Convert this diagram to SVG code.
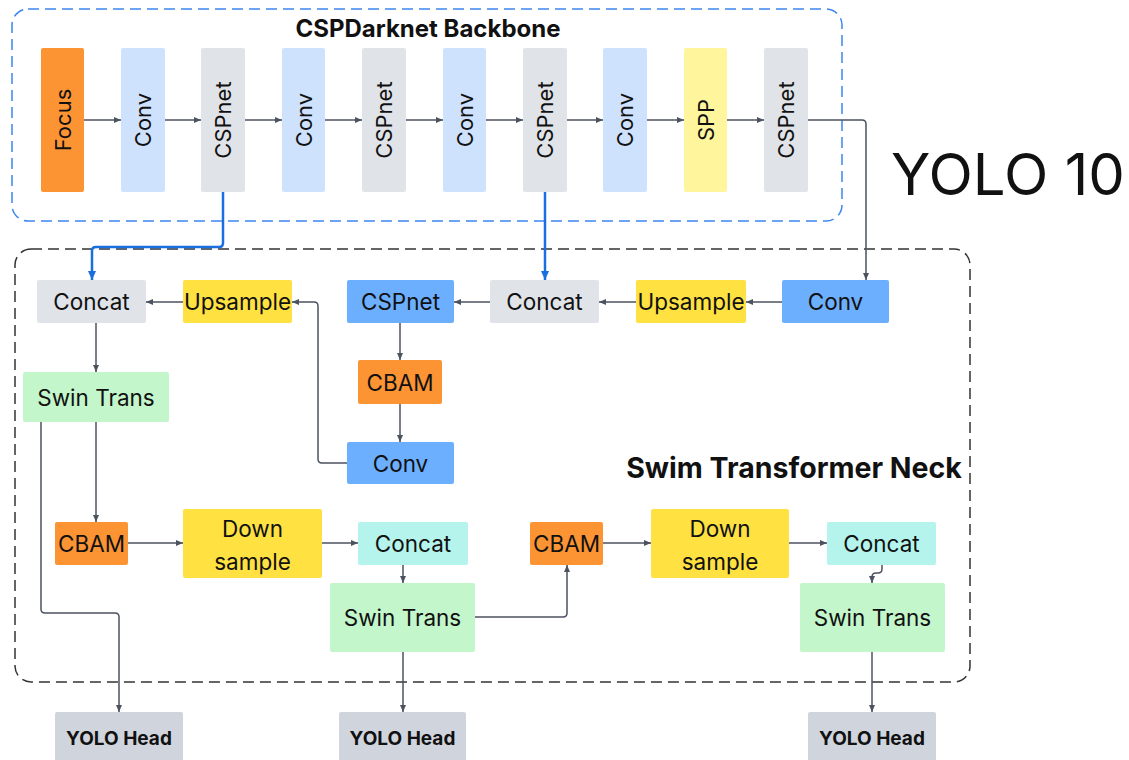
<svg xmlns="http://www.w3.org/2000/svg" width="1129" height="760" viewBox="0 0 1129 760">
<style>
text{font-family:Inter,"Liberation Sans",sans-serif;fill:#111;}
.lbl{font-size:22.5px;text-anchor:middle;dominant-baseline:central;}
.vlbl{font-size:22px;text-anchor:middle;dominant-baseline:central;}
.head{font-size:19px;font-weight:700;text-anchor:middle;}
.title{font-weight:700;}
.ln{fill:none;stroke:#4b5260;stroke-width:1.5;marker-end:url(#ah);}
.bl{fill:none;stroke:#1a6fe0;stroke-width:2.5;marker-end:url(#ahb);}
.orange{fill:#fc9433;}
.lblue{fill:#cfe2fd;}
.gray{fill:#e0e3e8;}
.lyel{fill:#fff59c;}
.blue{fill:#6cafff;}
.yel{fill:#ffe142;}
.green{fill:#c3f6cb;}
.cyan{fill:#b5f4ec;}
.hgray{fill:#d0d5dd;}
</style>
<defs>
<marker id="ah" markerUnits="userSpaceOnUse" markerWidth="8" markerHeight="8" refX="7" refY="4" orient="auto"><path d="M0,1 L7,4 L0,7 z" fill="#4b5260"/></marker>
<marker id="ahb" markerUnits="userSpaceOnUse" markerWidth="10" markerHeight="10" refX="9" refY="5" orient="auto"><path d="M0,1 L9,5 L0,9 z" fill="#1a6fe0"/></marker>
</defs>
<rect width="1129" height="760" fill="#fff"/>

<g id="backbone-frame">
<rect x="12" y="9" width="830" height="212" rx="16" fill="none" stroke="#3d86f0" stroke-width="1.5" stroke-dasharray="11 6"/>
<text class="title" x="428" y="37" font-size="24" text-anchor="middle">CSPDarknet Backbone</text>
</g>
<g id="neck-frame">
<rect x="15" y="249" width="955" height="433" rx="16" fill="none" stroke="#333" stroke-width="1.5" stroke-dasharray="11 6"/>
<text class="title" x="794" y="478" font-size="28.5" text-anchor="middle">Swim Transformer Neck</text>
</g>
<text x="1008" y="195" font-size="58" text-anchor="middle">YOLO 10</text>

<g id="connectors">
<path class="ln" d="M84,120 H121"/>
<path class="ln" d="M165,120 H201"/>
<path class="ln" d="M245,120 H282"/>
<path class="ln" d="M325,120 H362"/>
<path class="ln" d="M406,120 H443"/>
<path class="ln" d="M486,120 H523"/>
<path class="ln" d="M567,120 H603"/>
<path class="ln" d="M647,120 H684"/>
<path class="ln" d="M727,120 H764"/>
<path class="ln" d="M808,120 H862 Q866,120 866,124 V280"/>
<path class="bl" d="M223,192 V243 Q223,247 219,247 H96 Q92,247 92,251 V280"/>
<path class="bl" d="M545,192 V280"/>
<path class="ln" d="M782,302 H746"/>
<path class="ln" d="M636,302 H599"/>
<path class="ln" d="M490,302 H454"/>
<path class="ln" d="M400,323 V360"/>
<path class="ln" d="M400,404 V442"/>
<path class="ln" d="M347,463 H322 Q318,463 318,459 V306 Q318,302 314,302 H292"/>
<path class="ln" d="M183,302 H146"/>
<path class="ln" d="M96,323 V372"/>
<path class="ln" d="M96,422 V522"/>
<path class="ln" d="M41,422 V609 Q41,613 45,613 H115 Q119,613 119,617 V712"/>
<path class="ln" d="M128,543 H183"/>
<path class="ln" d="M322,543 H358"/>
<path class="ln" d="M403,565 V583"/>
<path class="ln" d="M403,652 V712"/>
<path class="ln" d="M475,617 H563 Q567,617 567,613 V565"/>
<path class="ln" d="M603,543 H651"/>
<path class="ln" d="M789,543 H827"/>
<path class="ln" d="M882,565 V569 Q882,573 878,573 H876 Q872,573 872,577 V583"/>
<path class="ln" d="M872,652 V712"/>
</g>

<g id="b-focus"><rect class="orange" x="41" y="48" width="43" height="144" rx="2"/><text class="vlbl" transform="translate(62.5,120) rotate(-90)">Focus</text></g>
<g id="b-conv1"><rect class="lblue" x="121" y="48" width="44" height="144" rx="2"/><text class="vlbl" transform="translate(143,120) rotate(-90)">Conv</text></g>
<g id="b-csp1"><rect class="gray" x="201" y="48" width="44" height="144" rx="2"/><text class="vlbl" transform="translate(223,120) rotate(-90)">CSPnet</text></g>
<g id="b-conv2"><rect class="lblue" x="282" y="48" width="43" height="144" rx="2"/><text class="vlbl" transform="translate(303.5,120) rotate(-90)">Conv</text></g>
<g id="b-csp2"><rect class="gray" x="362" y="48" width="44" height="144" rx="2"/><text class="vlbl" transform="translate(384,120) rotate(-90)">CSPnet</text></g>
<g id="b-conv3"><rect class="lblue" x="443" y="48" width="43" height="144" rx="2"/><text class="vlbl" transform="translate(464.5,120) rotate(-90)">Conv</text></g>
<g id="b-csp3"><rect class="gray" x="523" y="48" width="44" height="144" rx="2"/><text class="vlbl" transform="translate(545,120) rotate(-90)">CSPnet</text></g>
<g id="b-conv4"><rect class="lblue" x="603" y="48" width="44" height="144" rx="2"/><text class="vlbl" transform="translate(625,120) rotate(-90)">Conv</text></g>
<g id="b-spp"><rect class="lyel" x="684" y="48" width="43" height="144" rx="2"/><text class="vlbl" transform="translate(705.5,120) rotate(-90)">SPP</text></g>
<g id="b-csp4"><rect class="gray" x="764" y="48" width="44" height="144" rx="2"/><text class="vlbl" transform="translate(786,120) rotate(-90)">CSPnet</text></g>

<g id="n-concat1"><rect class="gray" x="37" y="280" width="109" height="43" rx="2"/><text class="lbl" x="91.5" y="301.5">Concat</text></g>
<g id="n-upsample1"><rect class="yel" x="183" y="280" width="109" height="43" rx="2"/><text class="lbl" x="237.5" y="301.5">Upsample</text></g>
<g id="n-cspnet"><rect class="blue" x="347" y="280" width="107" height="43" rx="2"/><text class="lbl" x="400.5" y="301.5">CSPnet</text></g>
<g id="n-concat2"><rect class="gray" x="490" y="280" width="109" height="43" rx="2"/><text class="lbl" x="544.5" y="301.5">Concat</text></g>
<g id="n-upsample2"><rect class="yel" x="636" y="280" width="110" height="43" rx="2"/><text class="lbl" x="691" y="301.5">Upsample</text></g>
<g id="n-conv1"><rect class="blue" x="782" y="280" width="107" height="43" rx="2"/><text class="lbl" x="835.5" y="301.5">Conv</text></g>
<g id="n-cbam1"><rect class="orange" x="358" y="360" width="84" height="44" rx="2"/><text class="lbl" x="400" y="382">CBAM</text></g>
<g id="n-conv2"><rect class="blue" x="347" y="442" width="107" height="42" rx="2"/><text class="lbl" x="400.5" y="463">Conv</text></g>
<g id="n-swin1"><rect class="green" x="23" y="372" width="146" height="50" rx="2"/><text class="lbl" x="96" y="397">Swin Trans</text></g>
<g id="n-cbam2"><rect class="orange" x="55" y="522" width="73" height="43" rx="2"/><text class="lbl" x="91.5" y="543.5">CBAM</text></g>
<g id="n-down1"><rect class="yel" x="183" y="509" width="139" height="69" rx="2"/><text class="lbl" x="252.5" y="528">Down</text><text class="lbl" x="252.5" y="561">sample</text></g>
<g id="n-concat3"><rect class="cyan" x="358" y="522" width="110" height="43" rx="2"/><text class="lbl" x="413" y="543.5">Concat</text></g>
<g id="n-swin2"><rect class="green" x="330" y="583" width="145" height="69" rx="2"/><text class="lbl" x="402.5" y="617.5">Swin Trans</text></g>
<g id="n-cbam3"><rect class="orange" x="530" y="522" width="73" height="43" rx="2"/><text class="lbl" x="566.5" y="543.5">CBAM</text></g>
<g id="n-down2"><rect class="yel" x="651" y="509" width="138" height="69" rx="2"/><text class="lbl" x="720" y="528">Down</text><text class="lbl" x="720" y="561">sample</text></g>
<g id="n-concat4"><rect class="cyan" x="827" y="522" width="109" height="43" rx="2"/><text class="lbl" x="881.5" y="543.5">Concat</text></g>
<g id="n-swin3"><rect class="green" x="800" y="583" width="145" height="69" rx="2"/><text class="lbl" x="872.5" y="617.5">Swin Trans</text></g>

<g id="h-head1"><rect class="hgray" x="55" y="712" width="128" height="60" rx="2"/><text class="head" x="119" y="745">YOLO Head</text></g>
<g id="h-head2"><rect class="hgray" x="339" y="712" width="127" height="60" rx="2"/><text class="head" x="402.5" y="745">YOLO Head</text></g>
<g id="h-head3"><rect class="hgray" x="808" y="712" width="128" height="60" rx="2"/><text class="head" x="872" y="745">YOLO Head</text></g>
</svg>
